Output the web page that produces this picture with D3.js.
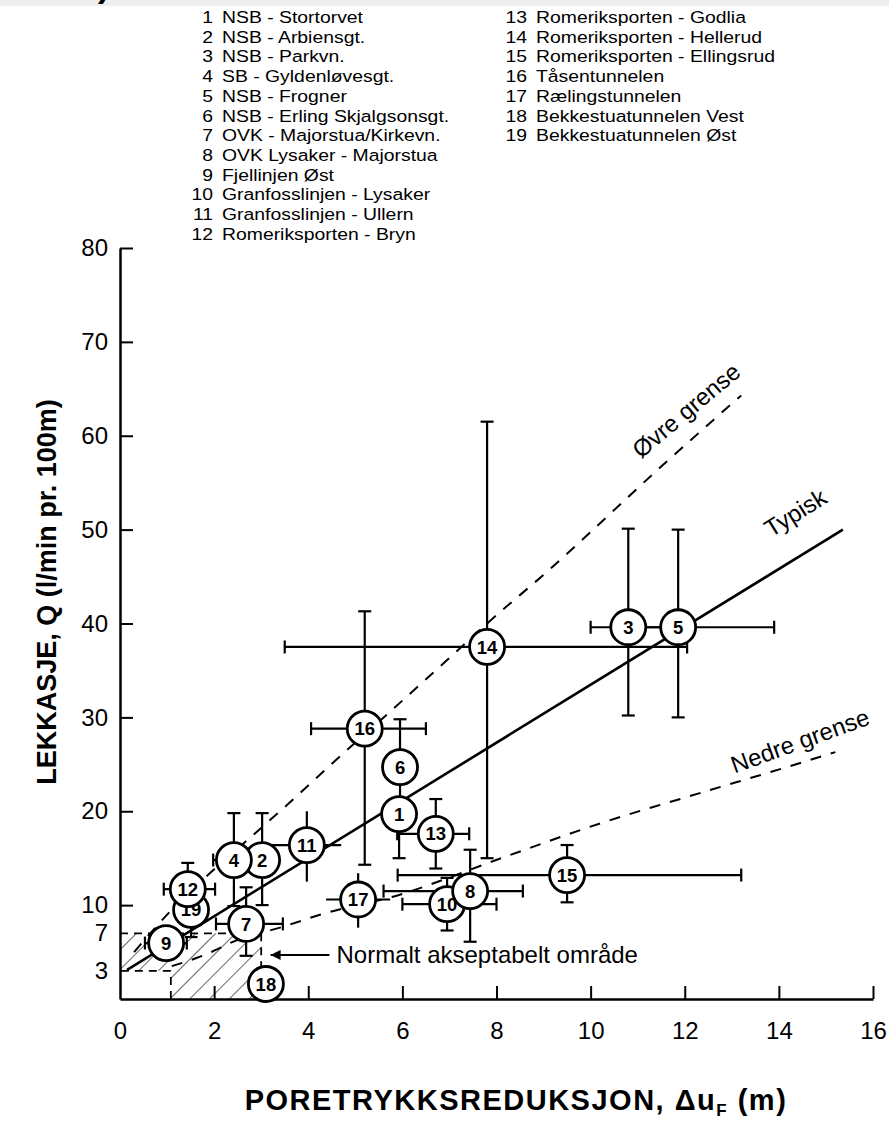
<!DOCTYPE html>
<html>
<head>
<meta charset="utf-8">
<script src="https://cdn.jsdelivr.net/npm/d3@7"></script>
<style>
  body { margin: 0; background: #fff; }
  svg { display: block; font-family: "Liberation Sans", Arial, sans-serif; }
</style>
</head>
<body>
<svg id="chart" width="889" height="1130"></svg>
<script>
// --- data ---
const siteIds = [1, 2, 3, 4, 5, 6, 7, 8, 9, 10, 11, 12, 13, 14, 15, 16, 17, 18, 19];
const siteNames = [
  "NSB - Stortorvet", "NSB - Arbiensgt.", "NSB - Parkvn.", "SB - Gyldenløvesgt.",
  "NSB - Frogner", "NSB - Erling Skjalgsonsgt.", "OVK - Majorstua/Kirkevn.",
  "OVK Lysaker - Majorstua", "Fjellinjen Øst", "Granfosslinjen - Lysaker",
  "Granfosslinjen - Ullern", "Romeriksporten - Bryn", "Romeriksporten - Godlia",
  "Romeriksporten - Hellerud", "Romeriksporten - Ellingsrud", "Tåsentunnelen",
  "Rælingstunnelen", "Bekkestuatunnelen Vest", "Bekkestuatunnelen Øst"
];
const siteX  = [5.93, 3.02, 10.8, 2.42, 11.86, 5.95, 2.68, 7.44, 0.98, 6.95, 3.97, 1.44, 6.71, 7.8, 9.5, 5.2, 5.06, 3.1, 1.51];
const siteY  = [19.7, 14.8, 39.6, 14.8, 39.6, 24.7, 8.0, 11.5, 5.96, 10.1, 16.4, 11.7, 17.6, 37.5, 13.2, 28.8, 10.6, 1.6, 9.5];
const xErrLo = [null, null, 10.0, 1.98, 10.8, null, 2.04, 5.6, 0.53, 6.0, 3.0, 0.93, 5.89, 3.5, 5.9, 4.06, 4.38, 2.85, null];
const xErrHi = [null, null, 11.86, 2.42, 13.9, null, 3.46, 8.56, 1.42, 8.0, 4.7, 2.02, 7.42, 12.05, 13.2, 6.5, 5.74, 3.35, null];
const yErrLo = [15.0, 10.0, 30.2, 9.9, 30.0, 19.7, 4.6, 6.1, null, 7.3, 12.5, 9.5, 13.9, 15.0, 10.3, 14.3, 7.6, null, 6.6];
const yErrHi = [19.7, 19.8, 50.1, 19.8, 50.0, 29.8, 11.9, 15.9, null, 12.9, 20.0, 14.5, 21.3, 61.5, 16.4, 41.3, 13.4, null, 11.7];
const noCaps = [11, 17, 18];

const typiskX = [0.15, 15.36];
const typiskY = [3.1, 50.0];
const ovreX = [0.3, 1.06, 1.8, 2.7, 3.6, 4.4, 5.67, 6.95, 7.8, 9.07, 11.54, 13.2];
const ovreY = [5.0, 9.3, 12.9, 16.9, 20.9, 24.6, 30.3, 36.1, 40.0, 45.5, 56.9, 64.3];
const nedreX = [1.1, 1.8, 2.5, 3.4, 4.4, 5.8, 8.1, 10.2, 12.3, 14.1, 15.2];
const nedreY = [3.5, 4.7, 6.3, 7.6, 9.2, 10.9, 15.0, 18.7, 21.9, 24.6, 26.3];

const areaX = [0, 3.0, 3.0, 1.08, 1.08, 0];
const areaY = [7, 7, 0, 0, 3, 3];

const xTicks = [0, 2, 4, 6, 8, 10, 12, 14, 16];
const yTicks = [3, 7, 10, 20, 30, 40, 50, 60, 70, 80];

// --- layout ---
const svg = d3.select("#chart");
const x = d3.scaleLinear().domain([0, 16]).range([120, 873]);
const y = d3.scaleLinear().domain([0, 80]).range([999, 248]);

// cropped band at the very top
svg.append("rect").attr("x", 0).attr("y", 0).attr("width", 889).attr("height", 6).attr("fill", "#efefef");
svg.append("text").attr("x", 98).attr("y", -3).attr("font-size", 34).attr("font-weight", "bold").text(")");

// legend (slightly wide lettering, as in the scan)
const legend = svg.append("g").attr("font-size", 17);
siteIds.forEach(function(id, i) {
  const col = i < 12 ? 0 : 1;
  const row = col === 0 ? i : i - 12;
  const nx = col === 0 ? 213 : 527;
  const ny = 23 + row * 19.7;
  legend.append("text")
      .attr("transform", "translate(" + nx + "," + ny + ") scale(1.14,1)")
      .attr("text-anchor", "end").text(id);
  legend.append("text")
      .attr("transform", "translate(" + (nx + 9) + "," + ny + ") scale(1.14,1)")
      .text(siteNames[i]);
});

// hatch pattern
const defs = svg.append("defs");
defs.append("pattern")
    .attr("id", "hatch")
    .attr("patternUnits", "userSpaceOnUse")
    .attr("width", 14).attr("height", 14)
    .attr("patternTransform", "rotate(45)")
  .append("line")
    .attr("x1", 0).attr("y1", 0).attr("x2", 0).attr("y2", 14)
    .attr("stroke", "#000").attr("stroke-width", 1.2);
defs.append("marker")
    .attr("id", "arrow")
    .attr("viewBox", "0 0 10 10")
    .attr("refX", 10).attr("refY", 5)
    .attr("markerWidth", 14).attr("markerHeight", 10)
    .attr("markerUnits", "userSpaceOnUse")
    .attr("orient", "auto")
  .append("path").attr("d", "M0,0 L10,5 L0,10 Z").attr("fill", "#000");

// acceptable area
const areaPts = areaX.map(function(d, i) { return [x(d), y(areaY[i])]; });
svg.append("path")
    .attr("d", "M" + areaPts.join("L") + "Z")
    .attr("fill", "url(#hatch)");
const edges = [[0, 1], [1, 2], [3, 4], [4, 5]];
svg.append("g").selectAll("line")
  .data(edges)
  .enter().append("line")
    .attr("x1", function(d) { return x(areaX[d[0]]); })
    .attr("y1", function(d) { return y(areaY[d[0]]); })
    .attr("x2", function(d) { return x(areaX[d[1]]); })
    .attr("y2", function(d) { return y(areaY[d[1]]); })
    .attr("stroke", "#000").attr("stroke-width", 1.8)
    .attr("stroke-dasharray", "8,6");

// axes
const gy = svg.append("g")
    .attr("transform", "translate(" + x(0) + ",0)")
    .call(d3.axisLeft(y).tickValues(yTicks).tickSize(-13).tickSizeOuter(0).tickPadding(12));
gy.selectAll(".tick").filter(function(d) { return d === 3 || d === 7; }).select("line").remove();
const gx = svg.append("g")
    .attr("transform", "translate(0," + y(0) + ")")
    .call(d3.axisBottom(x).tickValues(xTicks).tickSize(-13).tickSizeOuter(0).tickPadding(18));
gx.selectAll(".tick").filter(function(d) { return d === 0; }).select("line").remove();
[gy, gx].forEach(function(g) {
  g.select(".domain").attr("stroke-width", 2.5);
  g.selectAll(".tick line").attr("stroke-width", 2);
  g.selectAll(".tick text").attr("font-size", 24).attr("font-family", "Liberation Sans, Arial, sans-serif").attr("fill", "#000");
});
gx.selectAll(".tick text").attr("dy", "0.9em");

// axis titles
svg.append("text")
    .attr("transform", "translate(47," + 592 + ") rotate(-90)")
    .attr("text-anchor", "middle")
    .attr("dy", "0.35em")
    .attr("font-size", 27).attr("font-weight", "bold")
    .text("LEKKASJE, Q (l/min pr. 100m)");
const xt = svg.append("text")
    .attr("x", 516).attr("y", 1110)
    .attr("text-anchor", "middle")
    .attr("font-size", 29).attr("font-weight", "bold")
    .attr("letter-spacing", 1.5);
xt.append("tspan").text("PORETRYKKSREDUKSJON, \u0394u");
xt.append("tspan").attr("font-size", 17).attr("dy", 6).text("F");
xt.append("tspan").attr("dy", -6).text(" (m)");

// curves
const lineGen = d3.line().x(function(d) { return x(d[0]); }).y(function(d) { return y(d[1]); });
const curveGen = d3.line().curve(d3.curveMonotoneX).x(function(d) { return x(d[0]); }).y(function(d) { return y(d[1]); });
svg.append("path")
    .attr("d", lineGen(typiskX.map(function(d, i) { return [d, typiskY[i]]; })))
    .attr("fill", "none").attr("stroke", "#000").attr("stroke-width", 2.6);
svg.append("path")
    .attr("d", curveGen(ovreX.map(function(d, i) { return [d, ovreY[i]]; })))
    .attr("fill", "none").attr("stroke", "#000").attr("stroke-width", 2)
    .attr("stroke-dasharray", "11,10");
svg.append("path")
    .attr("d", curveGen(nedreX.map(function(d, i) { return [d, nedreY[i]]; })))
    .attr("fill", "none").attr("stroke", "#000").attr("stroke-width", 2)
    .attr("stroke-dasharray", "11,10");

// curve labels
function curveLabel(txt, cx, cy, angle) {
  svg.append("text")
    .attr("transform", "translate(" + x(cx) + "," + y(cy) + ") rotate(" + angle + ")")
    .attr("text-anchor", "middle")
    .attr("dy", "0.35em")
    .attr("font-size", 24)
    .text(txt);
}
curveLabel("Typisk", 14.35, 51.8, -32);
curveLabel("\u00D8vre grense", 12.03, 62.7, -40);
curveLabel("Nedre grense", 14.45, 27.5, -20);

// normal area annotation
svg.append("line")
    .attr("x1", x(4.45)).attr("y1", y(4.7))
    .attr("x2", x(3.2)).attr("y2", y(4.7))
    .attr("stroke", "#000").attr("stroke-width", 2)
    .attr("marker-end", "url(#arrow)");
svg.append("text")
    .attr("x", x(4.6)).attr("y", y(4.7))
    .attr("dy", "0.35em")
    .attr("font-size", 24)
    .text("Normalt akseptabelt område");

// error bars
const sites = siteIds.map(function(id, i) {
  return { id: id, x: siteX[i], y: siteY[i], xl: xErrLo[i], xh: xErrHi[i], yl: yErrLo[i], yh: yErrHi[i] };
});
const bars = svg.append("g").attr("stroke", "#000").attr("stroke-width", 2.2);
const cap = 6.5;
sites.forEach(function(s) {
  const caps = noCaps.indexOf(s.id) < 0;
  if (s.xl !== null) {
    bars.append("line").attr("x1", x(s.xl)).attr("x2", x(s.xh)).attr("y1", y(s.y)).attr("y2", y(s.y));
    if (caps) {
      [s.xl, s.xh].forEach(function(v) {
        bars.append("line").attr("x1", x(v)).attr("x2", x(v)).attr("y1", y(s.y) - cap).attr("y2", y(s.y) + cap);
      });
    }
  }
  if (s.yl !== null) {
    bars.append("line").attr("x1", x(s.x)).attr("x2", x(s.x)).attr("y1", y(s.yl)).attr("y2", y(s.yh));
    if (caps) {
      [s.yl, s.yh].forEach(function(v) {
        bars.append("line").attr("x1", x(s.x) - cap).attr("x2", x(s.x) + cap).attr("y1", y(v)).attr("y2", y(v));
      });
    }
  }
});

// markers
const order = sites.slice().sort(function(a, b) { return a.y - b.y || a.id - b.id; });
const marks = svg.append("g").selectAll("g")
  .data(order)
  .enter().append("g")
    .attr("transform", function(d) { return "translate(" + x(d.x) + "," + y(d.y) + ")"; });
marks.append("circle")
    .attr("r", 17.5)
    .attr("fill", "#fff").attr("stroke", "#000").attr("stroke-width", 2.8);
marks.append("text")
    .attr("text-anchor", "middle")
    .attr("dy", "0.36em")
    .attr("font-size", 18.5).attr("font-weight", "bold")
    .text(function(d) { return d.id; });
</script>
</body>
</html>
